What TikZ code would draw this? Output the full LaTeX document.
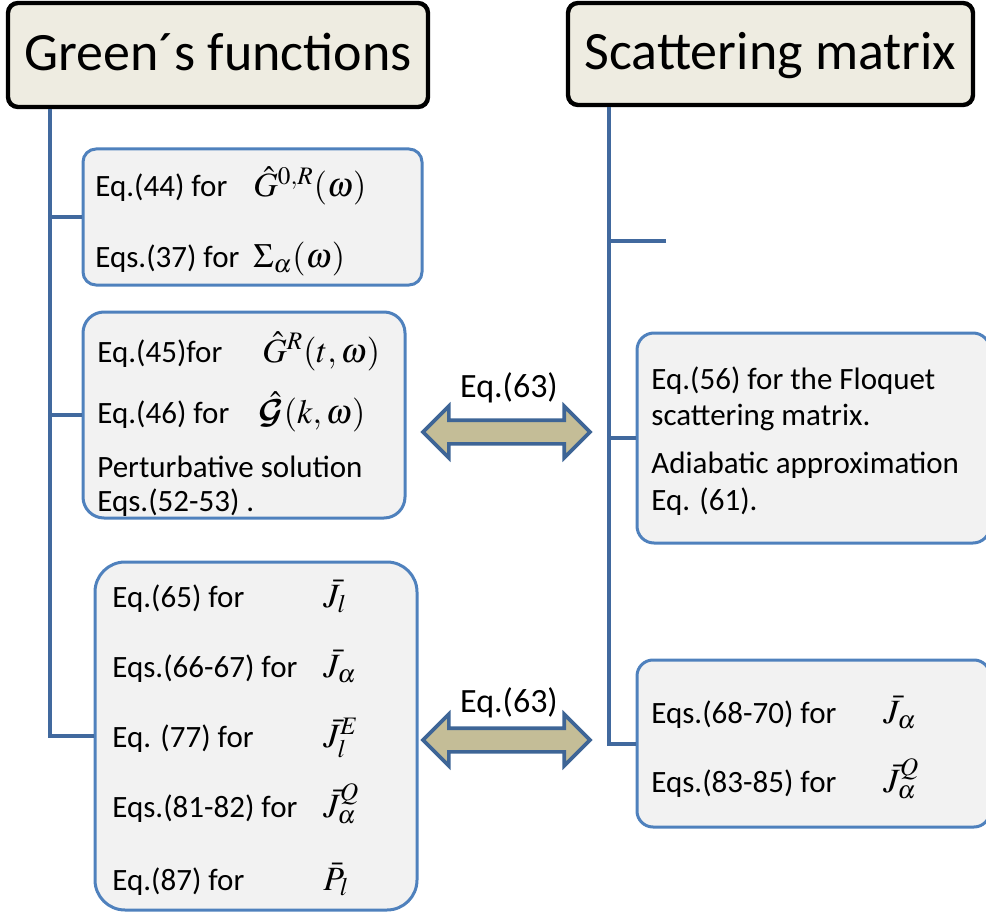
\documentclass[tikz,border=0pt]{standalone}
\usepackage{amsmath}
\usepackage{mathptmx}
\usepackage[no-math]{fontspec}
\setmainfont{Carlito}
\usetikzlibrary{positioning,fit,shapes.arrows}
\DeclareMathAlphabet{\mathbcal}{OMS}{cmsy}{b}{n}
\definecolor{titlefill}{HTML}{EEECE1}
\definecolor{boxfill}{HTML}{F2F2F2}
\definecolor{boxline}{HTML}{4F81BD}
\definecolor{trunkline}{HTML}{41699E}
\definecolor{arrowfill}{HTML}{C4BD97}
\definecolor{arrowline}{HTML}{3E6596}
\tikzset{
  titlebox/.style={draw=black,line width=2.2pt,fill=titlefill,rounded corners=5pt,inner sep=0pt,
    font=\fontsize{27}{32}\selectfont,text height=20pt,text depth=4pt},
  eqbox/.style={draw=boxline,line width=1.5pt,fill=boxfill,inner sep=0pt},
  trunk/.style={draw=trunkline,line width=2pt},
  eqtext/.style={anchor=base west,inner sep=0pt,font=\fontsize{15.5}{18}\selectfont},
  eqmath/.style={anchor=base west,inner sep=0pt,font=\fontsize{17}{20}\selectfont},
  eqlabel/.style={anchor=base,inner sep=0pt,font=\fontsize{17}{20}\selectfont},
  dblarrow/.style={double arrow,draw=arrowline,line width=1.8pt,fill=arrowfill,
    minimum height=83.5pt,minimum width=24pt,double arrow head extend=7pt,
    inner xsep=0pt,inner ysep=5pt}
}

\begin{document}
\begin{tikzpicture}[x=0.5pt,y=-0.5pt]
	\useasboundingbox (0,0) rectangle (986,915);
	\node[titlebox,minimum width=210pt,minimum height=52pt] (gf) at (218,55) {Green´s functions};
	\node[titlebox,minimum width=202.5pt,minimum height=51pt] (sm) at (770.5,54) {Scattering matrix};
	\node[eqbox,rounded corners=6.5pt,fit={(83,149) (422,285)}] (g1) {};
	\node[eqbox,rounded corners=10.5pt,fit={(83,312) (405,518)}] (g2) {};
	\node[eqbox,rounded corners=15pt,fit={(95,562) (417,910)}] (g3) {};
	\node[eqbox,rounded corners=8.5pt,fit={(637,333) (990,543)}] (s1) {};
	\node[eqbox,rounded corners=8pt,fit={(637,660) (990,827)}] (s2) {};
	\coordinate (gt) at ([xshift=22pt]gf.south west);
	\coordinate (st) at ([xshift=21.5pt]sm.south west);
	\coordinate (se) at (666,241);
	\draw[trunk] (gt) |- (g3.west);
	\draw[trunk] (g1.west) -- (g1.west -| gt);
	\draw[trunk] (g2.west) -- (g2.west -| gt);
	\draw[trunk] (st) |- (s2.west);
	\draw[trunk] (s1.west) -- (s1.west -| st);
	\draw[trunk] (se) -- (se -| st);
	\node[dblarrow] (a1) at (506.5,432) {};
	\node[dblarrow] (a2) at (506.5,740) {};
	\node[eqlabel] (e1) at (509,397) {Eq.(63)};
	\node[eqlabel] (e2) at (509,712) {Eq.(63)};
	\node[eqtext] (t11) at (95,197) {Eq.(44) for};
	\node[eqmath] (m11) at (253,197) {$\hat{G}^{0,R}(\omega)$};
	\node[eqtext] (t12) at (95,267) {Eqs.(37) for};
	\node[eqmath] (m12) at (253,267) {$\Sigma_{\alpha}(\omega)$};
	\node[eqtext] (t21) at (97,362) {Eq.(45)for};
	\node[eqmath] (m21) at (262,362) {$\hat{G}^{R}(t,\omega)$};
	\node[eqtext] (t22) at (97,423) {Eq.(46) for};
	\node[eqmath] (m22) at (258,423) {$\hat{\mathbcal{G}}(k,\omega)$};
	\node[eqtext] (t23) at (97,477) {Perturbative solution};
	\node[eqtext] (t24) at (97,511) {Eqs.(52-53) .};
	\node[eqtext] (t31) at (112,607) {Eq.(65) for};
	\node[eqmath] (m31) at (323,607) {$\bar{J}_{l}$};
	\node[eqtext] (t32) at (112,677) {Eqs.(66-67) for};
	\node[eqmath] (m32) at (323,677) {$\bar{J}_{\alpha}$};
	\node[eqtext] (t33) at (112,747) {Eq. (77) for};
	\node[eqmath] (m33) at (323,747) {$\bar{J}_{l}^{E}$};
	\node[eqtext] (t34) at (112,817) {Eqs.(81-82) for};
	\node[eqmath] (m34) at (323,817) {$\bar{J}_{\alpha}^{Q}$};
	\node[eqtext] (t35) at (112,890) {Eq.(87) for};
	\node[eqmath] (m35) at (323,890) {$\bar{P}_{l}$};
	\node[eqtext] (u11) at (651,389) {Eq.(56) for the Floquet};
	\node[eqtext] (u12) at (651,425) {scattering matrix.};
	\node[eqtext] (u13) at (651,473) {Adiabatic approximation};
	\node[eqtext] (u14) at (651,510) {Eq. (61).};
	\node[eqtext] (u21) at (651,723) {Eqs.(68-70) for};
	\node[eqmath] (n21) at (883,723) {$\bar{J}_{\alpha}$};
	\node[eqtext] (u22) at (651,792) {Eqs.(83-85) for};
	\node[eqmath] (n22) at (883,792) {$\bar{J}_{\alpha}^{Q}$};
\end{tikzpicture}
\end{document}
